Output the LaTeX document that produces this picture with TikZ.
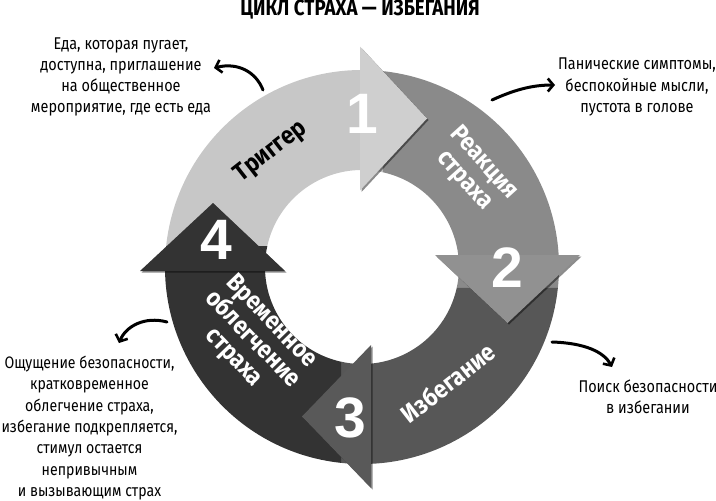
\documentclass[tikz,border=0pt]{standalone}
\usepackage{fontspec}
\setmainfont{Fira Sans}[FakeStretch=0.85]
\newfontfamily\ringfont{Fira Sans}[FakeStretch=0.9]
\newfontfamily\digitfont{Liberation Sans}
\usetikzlibrary{arrows.meta,shadows,calc}
\definecolor{bandA}{gray}{0.78}
\definecolor{headA}{gray}{0.81}
\definecolor{bandB}{gray}{0.54}
\definecolor{headB}{gray}{0.57}
\definecolor{bandC}{gray}{0.34}
\definecolor{headC}{gray}{0.35}
\definecolor{bandD}{gray}{0.20}
\definecolor{headD}{gray}{0.20}
\tikzset{
  headshape/.style={drop shadow={shadow xshift=1.5pt,shadow yshift=-1.5pt,opacity=0.45,fill=black}},
  digit/.style={text=white,font=\digitfont\bfseries\fontsize{57}{57}\selectfont,inner sep=0pt},
  ringtext/.style={font=\ringfont\bfseries\fontsize{25}{26}\selectfont,align=center,inner sep=0pt},
  sidetext/.style={font=\fontsize{17}{21.3}\selectfont,align=center,inner sep=0pt},
  callout/.style={line width=3pt,line cap=round,-{Straight Barb[length=5.5pt,width=13pt,line width=2.6pt]}}
}
\begin{document}
\begin{tikzpicture}[x=1pt,y=1pt]
\useasboundingbox (0,0) rectangle (716,-501);
\coordinate (C) at (362,-267);
% bands
\fill[bandA] ($(C)+(173.9:197)$) arc[start angle=173.9,end angle=83.9,radius=197]
  -- ($(C)+(77.5:97)$) arc[start angle=77.5,end angle=167.5,radius=97] -- cycle;
\fill[bandB] ($(C)+(83.9:197)$) arc[start angle=83.9,end angle=-6.1,radius=197]
  -- ($(C)+(-12.5:97)$) arc[start angle=-12.5,end angle=77.5,radius=97] -- cycle;
\fill[bandC] ($(C)+(-6.1:197)$) arc[start angle=-6.1,end angle=-96.1,radius=197]
  -- ($(C)+(-102.5:97)$) arc[start angle=-102.5,end angle=-12.5,radius=97] -- cycle;
\fill[bandD] ($(C)+(-96.1:197)$) arc[start angle=-96.1,end angle=-186.1,radius=197]
  -- ($(C)+(-192.5:97)$) arc[start angle=-192.5,end angle=-102.5,radius=97] -- cycle;
% heads
\fill[headA,headshape] (360,-46.5) -- (427,-118.5) -- (360,-190.5) -- cycle;
\fill[headB,headshape] (435,-255) -- (580,-255) -- (507.5,-323) -- cycle;
\fill[headC,headshape] (371,-345) -- (302,-416.5) -- (371,-488) -- cycle;
\fill[headD,headshape] (140,-271) -- (213,-203) -- (285,-271) -- cycle;
% digits
\node[digit] (n1) at (362,-114) {1};
\node[digit] (n2) at (507,-268) {2};
\node[digit] (n3) at (350,-418) {3};
\node[digit] (n4) at (216,-240) {4};
% ring texts
\node[ringtext,rotate=38] (t1) at (271,-152) {Триггер};
\node[ringtext,rotate=-48,text=white] (t2) at (474,-172) {Реакция\\страха};
\node[ringtext,rotate=38,text=white] (t3) at (448,-383) {Избегание};
\node[ringtext,rotate=-46,text=white] (t4) at (252,-340) {Временное\\облегчение\\страха};
% title
\node[font=\bfseries\fontsize{22}{22}\selectfont,inner sep=0pt] (title) at (360,-10) {ЦИКЛ СТРАХА — ИЗБЕГАНИЯ};
% side texts
\node[sidetext] (s1) at (121,-77) {Еда, которая пугает,\\доступна, приглашение\\на общественное\\мероприятие, где есть еда};
\node[sidetext] (s2) at (637,-87) {Панические симптомы,\\беспокойные мысли,\\пустота в голове};
\node[sidetext] (s3) at (648,-397) {Поиск безопасности\\в избегании};
\node[sidetext,font=\fontsize{16.6}{21.3}\selectfont] (s4) at (89.5,-428) {Ощущение безопасности,\\кратковременное\\облегчение страха,\\избегание подкрепляется,\\стимул остается\\непривычным\\и вызывающим страх};
% callout arrows
\coordinate (a1s) at (263,-90);  \coordinate (a1e) at (214,-68);
\coordinate (a2s) at (492,-100); \coordinate (a2e) at (555,-85);
\coordinate (a3s) at (552,-342); \coordinate (a3e) at (612,-367);
\coordinate (a4s) at (167,-322); \coordinate (a4e) at (119,-343);
\draw[callout] (a1s) .. controls (256,-72) and (238,-62) .. (a1e);
\draw[callout] (a2s) .. controls (512,-91) and (530,-85) .. (a2e);
\draw[callout] (a3s) .. controls (585,-343) and (604,-352) .. (a3e);
\draw[callout] (a4s) .. controls (145,-316) and (126,-326) .. (a4e);
\end{tikzpicture}
\end{document}
